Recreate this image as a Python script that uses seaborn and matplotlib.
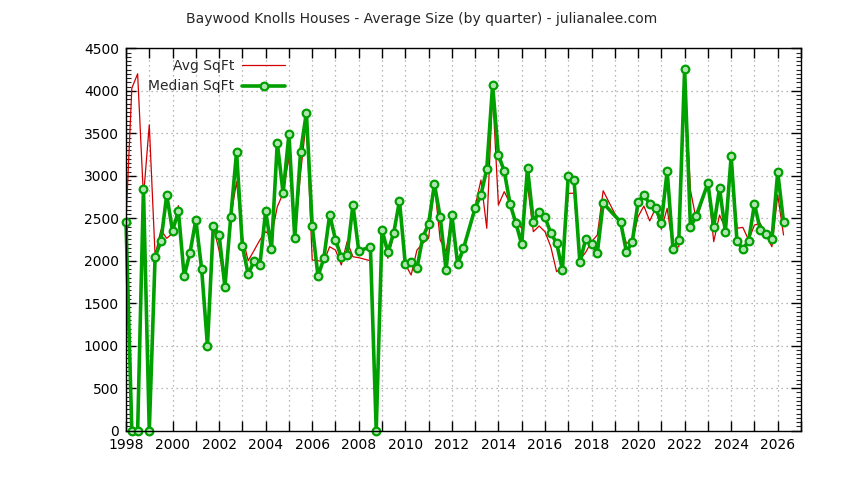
import seaborn as sns
import matplotlib.pyplot as plt
import matplotlib.ticker as mticker
import pandas as pd

quarters = ["1998Q1", "1998Q2", "1998Q3", "1998Q4", "1999Q1", "1999Q2", "1999Q3", "1999Q4",
            "2000Q1", "2000Q2", "2000Q3", "2000Q4", "2001Q1", "2001Q2", "2001Q3", "2001Q4",
            "2002Q1", "2002Q2", "2002Q3", "2002Q4", "2003Q1", "2003Q2", "2003Q3", "2003Q4",
            "2004Q1", "2004Q2", "2004Q3", "2004Q4", "2005Q1", "2005Q2", "2005Q3", "2005Q4",
            "2006Q1", "2006Q2", "2006Q3", "2006Q4", "2007Q1", "2007Q2", "2007Q3", "2007Q4",
            "2008Q1", "2008Q3", "2008Q4",
            "2009Q1", "2009Q2", "2009Q3", "2009Q4", "2010Q1", "2010Q2", "2010Q3", "2010Q4",
            "2011Q1", "2011Q2", "2011Q3", "2011Q4", "2012Q1", "2012Q2", "2012Q3",
            "2013Q1", "2013Q2", "2013Q3", "2013Q4", "2014Q1", "2014Q2", "2014Q3", "2014Q4",
            "2015Q1", "2015Q2", "2015Q3", "2015Q4", "2016Q1", "2016Q2", "2016Q3", "2016Q4",
            "2017Q1", "2017Q2", "2017Q3", "2017Q4", "2018Q1", "2018Q2", "2018Q3",
            "2019Q2", "2019Q3", "2019Q4", "2020Q1", "2020Q2", "2020Q3", "2020Q4",
            "2021Q1", "2021Q2", "2021Q3", "2021Q4", "2022Q1", "2022Q2", "2022Q3",
            "2023Q1", "2023Q2", "2023Q3", "2023Q4", "2024Q1", "2024Q2", "2024Q3", "2024Q4",
            "2025Q1", "2025Q2", "2025Q3", "2025Q4", "2026Q1", "2026Q2"]

avg_sqft = [2459, 4030, 4200, 2750, 3600, 2060, 2362, 2264,
            2323, 2648, 1817, 2095, 2479, 1899, 1000, 2409,
            2120, 1691, 2511, 2930, 2280, 2000, 2120, 2244,
            2342, 2283, 2636, 2794, 3224, 2268, 3030, 3656,
            2009, 2000, 1990, 2165, 2126, 1950, 2224, 2047,
            2036, 2000, 0,
            2362, 2029, 2300, 2703, 1958, 1832, 2126, 2205,
            2264, 2903, 2244, 2107, 2538, 2029, 2126,
            2640, 2950, 2382, 3980, 2656, 2813, 2676, 2459,
            2382, 2891, 2342, 2409, 2342, 2165, 1871, 1930,
            2794, 2794, 2009, 2100, 2224, 2303, 2824,
            2420, 2205, 2224, 2518, 2644, 2468, 2617, 2370,
            2617, 2146, 2165, 4200, 2832, 2479,
            2911, 2224, 2538, 2382, 3200, 2382, 2393, 2244,
            2420, 2440, 2303, 2165, 2774, 2303]

median_sqft = [2459, 0, 0, 2844, 0, 2044, 2229, 2774,
               2350, 2585, 1817, 2095, 2479, 1899, 1000, 2409,
               2303, 1691, 2511, 3280, 2173, 1840, 1997, 1946,
               2585, 2138, 3386, 2794, 3491, 2268, 3280, 3742,
               2409, 1817, 2029, 2542, 2248, 2040, 2068, 2659,
               2115, 2162, 0,
               2362, 2103, 2326, 2703, 1958, 1985, 1911, 2276,
               2432, 2903, 2511, 1891, 2538, 1958, 2146,
               2621, 2774, 3080, 4068, 3244, 3056, 2668, 2444,
               2193, 3095, 2456, 2577, 2511, 2326, 2209, 1891,
               2997, 2950, 1982, 2256, 2200, 2095, 2679,
               2456, 2103, 2221, 2691, 2774, 2668, 2624, 2448,
               3056, 2138, 2244, 4253, 2394, 2530,
               2911, 2401, 2856, 2342, 3229, 2229, 2138, 2232,
               2668, 2362, 2315, 2252, 3044, 2452]

per = pd.PeriodIndex(quarters, freq="Q")
df = pd.DataFrame({
    "year": per.year + (per.quarter - 1) / 4.0,
    "Avg SqFt": avg_sqft,
    "Median SqFt": median_sqft,
})

sns.set_style("ticks")
plt.rcParams["font.family"] = ["DejaVu Sans"]

fig = plt.figure(figsize=(8.44, 4.8), dpi=100)
ax = fig.add_axes([126 / 844, 1 - 430.7 / 480, (801 - 126) / 844, (430.7 - 48.3) / 480])

sns.lineplot(data=df, x="year", y="Avg SqFt", ax=ax, color="#d00000", linewidth=0.9,
             sort=False, label="Avg SqFt")
sns.lineplot(data=df, x="year", y="Median SqFt", ax=ax, color="#00a000", linewidth=2.6,
             sort=False, marker="o", markersize=5.5, markerfacecolor="#b0e4b0",
             markeredgecolor="#00a000", markeredgewidth=1.6, clip_on=False,
             label="Median SqFt")

ax.set_xlim(1998, 2027)
ax.set_ylim(0, 4500)
ax.set_xlabel("")
ax.set_ylabel("")

ax.xaxis.set_major_locator(mticker.MultipleLocator(1))
ax.xaxis.set_major_formatter(mticker.FuncFormatter(
    lambda v, p: f"{int(round(v))}" if int(round(v)) % 2 == 0 else ""))
ax.yaxis.set_major_locator(mticker.MultipleLocator(500))
ax.yaxis.set_minor_locator(mticker.MultipleLocator(50))

ax.tick_params(axis="both", which="major", direction="in", length=7, width=1,
               top=True, right=True, labelsize=10, colors="black", pad=5)
ax.tick_params(axis="y", which="minor", direction="in", length=3.5, width=0.8,
               left=True, right=True)
ax.grid(True, which="major", color="#a0a0a0", linestyle=(0, (1, 3)), linewidth=0.9)

for s in ax.spines.values():
    s.set_color("black")
    s.set_linewidth(1)
    s.set_visible(True)

leg = ax.legend(loc="upper left", bbox_to_anchor=(0.02, 0.995), frameon=False,
                markerfirst=False, fontsize=10, handlelength=3.1,
                borderaxespad=0.2, labelspacing=0.5, handletextpad=0.6)
for t in leg.get_texts():
    t.set_ha("right")
leg._legend_box.align = "right"

fig.text(0.5, 1 - 19 / 480, "Baywood Knolls Houses - Average Size (by quarter) - julianalee.com",
         ha="center", va="center", fontsize=10)

fig.savefig("out.png", dpi=100)
